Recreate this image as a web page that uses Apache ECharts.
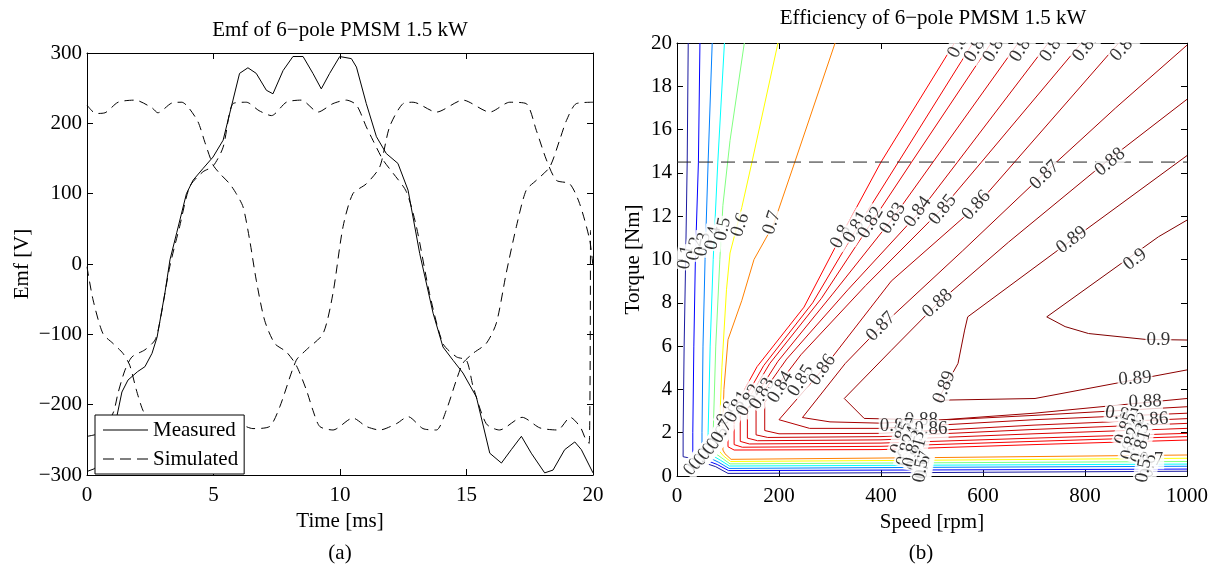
<!DOCTYPE html>
<html>
<head>
<meta charset="utf-8">
<script src="https://cdn.jsdelivr.net/npm/echarts@6/dist/echarts.min.js"></script>
<style>
  html, body { margin: 0; padding: 0; background: #fff; }
  #chart { width: 1223px; height: 575px; }
</style>
</head>
<body>
<div id="chart"></div>
<script>
// ---- (a) Emf: time [ms] / emf [V]
const measured = [[0,-295],[0.3,-291],[0.6,-275],[0.9,-245],[1.19,-215],[1.38,-182],[1.62,-165],[2.0,-153],[2.29,-146],[2.57,-127],[2.77,-104],[3.08,-41],[3.28,6],[3.55,45],[3.93,100],[4.19,119],[4.59,136],[4.98,152],[5.38,176],[5.77,233],[6.03,271],[6.36,279],[6.69,271],[7.09,247],[7.35,242],[7.75,275],[8.14,295],[8.54,295],[8.93,271],[9.26,249],[9.59,271],[9.99,295],[10.45,292],[10.65,280],[11.04,228],[11.44,181],[11.83,157],[12.29,143],[12.69,105],[13.15,15],[13.68,-70],[14.07,-118],[14.47,-137],[14.86,-155],[15.39,-189],[15.92,-269],[16.38,-283],[16.77,-264],[17.17,-245],[17.56,-269],[18.09,-297],[18.42,-293],[18.88,-264],[19.28,-253],[19.54,-264],[20,-297]];
const simA = [[0,226],[0.35,214],[0.71,215],[1.23,230],[1.9,233],[2.57,222],[2.8,215],[3.36,229],[3.75,230],[4.0,223],[4.39,202],[4.66,173],[4.98,141],[5.24,129],[5.64,114],[5.9,100],[6.17,81],[6.43,34],[6.69,-23],[7.02,-80],[7.42,-113],[7.88,-125],[8.27,-144],[8.67,-179],[8.93,-208],[9.2,-231],[9.72,-236],[10.51,-219],[11.04,-231],[11.57,-236],[12.23,-227],[12.69,-217],[13.28,-234],[13.81,-236],[14.2,-208],[14.6,-165],[14.86,-141],[15.26,-127],[15.78,-113],[16.18,-84],[16.57,-13],[16.97,53],[17.36,105],[17.76,119],[18.29,138],[18.68,176],[18.95,204],[19.34,228],[20,230]];
const simB = [[0,-4],[0.24,-51],[0.63,-99],[1.03,-113],[1.42,-127],[1.69,-144],[1.95,-179],[2.21,-208],[2.6,-232],[3.1,-236],[3.8,-218],[4.4,-232],[5.0,-236],[5.6,-220],[6.03,-227],[6.56,-234],[7.22,-231],[7.62,-203],[8.27,-137],[8.67,-122],[9.33,-99],[9.72,-42],[10.12,53],[10.51,100],[11.04,114],[11.57,138],[11.96,195],[12.49,228],[12.89,230],[13.81,216],[14.86,233],[15.92,216],[16.71,230],[17.36,228],[17.76,190],[18.16,148],[18.55,119],[19.08,114],[19.47,86],[19.87,34],[20,-4]];
const simC = [[0,-245],[0.5,-240],[1.03,-212],[1.23,-183],[1.5,-151],[1.78,-132],[2.29,-122],[2.69,-108],[2.87,-84],[3.27,-4],[3.66,53],[4.06,110],[4.58,131],[4.98,139],[5.38,166],[5.77,228],[6.3,230],[6.8,218],[7.29,211],[7.88,230],[8.47,233],[9.13,216],[9.72,228],[10.25,233],[10.65,226],[11.04,195],[11.3,176],[11.7,148],[12.1,129],[12.62,103],[13.02,53],[13.54,-42],[14.07,-113],[14.6,-132],[15.0,-137],[15.26,-174],[15.78,-227],[16.3,-236],[17.2,-218],[17.9,-233],[18.6,-236],[19.1,-218],[19.5,-232],[19.72,-250],[19.85,-255],[19.9,48]];

// ---- (b) Efficiency contours: speed [rpm] / torque [Nm]
const levels = ['0.1','0.2','0.3','0.4','0.5','0.6','0.7','0.8','0.81','0.82','0.83','0.84','0.85','0.86','0.87','0.88','0.89','0.9'];
const levelColors = ['#1a1aa0','#0000ff','#0080ff','#00ffff','#80ff80','#ffff00','#ff8000','#ff0000','#f20000','#e60000','#d90000','#cc0000','#bf0000','#b30000','#a60000','#990000','#8c0000','#800000'];
const c01 = [[22,20],[20,14.5],[17,10],[14,6],[12,2],[12,0.89],[25,0.83],[76,0.43],[100,0.12],[500,0.16],[1000,0.22]];
const c02 = [[45,20],[42,14.5],[36,10],[33,6],[31,2],[31,0.95],[40,0.88],[79,0.53],[101,0.25],[500,0.28],[1000,0.32]];
const c03 = [[69,20],[61,14.5],[55,10],[51,6],[49,2],[49,1.0],[56,0.93],[82,0.63],[102,0.35],[500,0.4],[1000,0.45]];
const c04 = [[93,20],[80,14.5],[71,10],[65,6],[61,2],[61,1.05],[67,0.98],[85,0.73],[103,0.46],[500,0.5],[1000,0.55]];
const c05 = [[132,20],[104,15.5],[90,12.5],[84,10],[76,6],[71,2],[71,1.1],[76,1.03],[88,0.83],[104,0.56],[500,0.61],[1000,0.67]];
const c06 = [[198,20],[147,14.5],[127,12.4],[104,10.3],[97,8.6],[88,5],[83,2],[83,1.15],[86,1.08],[91,0.93],[105,0.67],[500,0.73],[1000,0.82]];
const c07 = [[310,20],[231,14.5],[189,11.6],[151,10],[127,8.1],[100,6.3],[92,4],[90,2.4],[90,1.2],[94,1.03],[106,0.77],[500,0.85],[1000,0.97]];
const c080 = [[544,20],[400,14.5],[321,11.05],[249,7.8],[157,5.05],[100,2.6],[100,1.35],[112,1.2],[400,1.22],[700,1.45],[1000,1.66]];
const c081 = [[580,20],[434,14.5],[354,11.5],[266,8.0],[170,5.1],[112,2.7],[112,1.45],[128,1.33],[400,1.37],[700,1.6],[1000,1.82]];
const c082 = [[616,20],[460,14.5],[380,11.66],[283,8.2],[182,5.2],[124,2.9],[124,1.6],[142,1.48],[400,1.52],[700,1.75],[1000,1.97]];
const c083 = [[669,20],[502,14.5],[423,11.9],[305,8.4],[198,5.3],[138,3.1],[138,1.75],[158,1.63],[400,1.67],[700,1.95],[1000,2.2]];
const c084 = [[728,20],[550,14.5],[472,12.1],[335,8.6],[215,5.4],[155,3.4],[155,1.9],[178,1.78],[400,1.82],[700,2.15],[1000,2.43]];
const c085 = [[793,20],[597,14.5],[518,12.3],[370,8.8],[243,5.6],[172,3.4],[172,2.1],[200,1.95],[400,1.97],[700,2.35],[1000,2.65]];
const c086 = [[866,20],[662,14.5],[584,12.4],[420,9.0],[285,4.9],[200,2.6],[260,2.2],[400,2.2],[700,2.6],[1000,2.9]];
const c087 = [[1000,19.9],[860,17],[721,14.0],[560,10.4],[400,6.9],[330,5.2],[246,2.7],[300,2.5],[400,2.44],[700,2.8],[1000,3.2]];
const c088 = [[1000,17.4],[846,14.6],[650,10.8],[511,7.97],[420,5.8],[328,3.58],[367,2.66],[511,2.58],[700,2.9],[1000,3.58]];
const c089 = [[1000,14.8],[774,10.9],[570,7.35],[564,6.74],[551,5.2],[511,3.5],[702,3.58],[1000,4.9]];
const c090 = [[1000,11.82],[944,11.05],[725,7.35],[761,6.9],[807,6.58],[918,6.31],[1000,6.28]];
const contours = [c01,c02,c03,c04,c05,c06,c07,c080,c081,c082,c083,c084,c085,c086,c087,c088,c089,c090];
const ratedTorque = [[0,14.5],[1000,14.5]];

// contour labels: speed, torque, text, angle
const contourLabels = [
  [17,10.1,'0.1',80],[35,10.5,'0.2',80],[51,10.7,'0.3',80],[71,11.0,'0.4',80],[90,11.4,'0.5',78],[124,11.6,'0.6',72],[186,11.7,'0.7',72],
  [321,11.05,'0.8',62],[351,11.5,'0.81',60],[380,11.7,'0.82',60],[423,11.9,'0.83',58],[472,12.2,'0.84',55],[521,12.3,'0.85',52],[587,12.5,'0.86',48],
  [721,13.9,'0.87',44],[849,14.5,'0.88',40],[774,10.9,'0.89',37],[898,10.0,'0.9',37],
  [551,19.85,'0.8',62],[588,19.85,'0.81',60],[625,19.85,'0.82',60],[678,19.85,'0.83',58],[738,19.85,'0.84',55],[803,19.85,'0.85',52],[878,19.85,'0.86',48],
  [98,2.9,'0.8',62],[118,3.2,'0.81',62],[141,3.5,'0.82',62],[167,3.8,'0.83',60],[203,4.1,'0.84',60],[243,4.4,'0.85',58],[285,4.9,'0.86',55],
  [400,6.9,'0.87',46],[511,7.97,'0.88',42],[524,4.1,'0.89',68],
  [35,0.55,'0.1',50],[45,0.8,'0.2',50],[55,1.0,'0.3',50],[63,1.25,'0.4',50],[72,1.5,'0.5',52],[80,1.75,'0.6',55],[88,2.05,'0.7',58],
  [479,2.6,'0.88',0],[430,2.3,'0.87',0],[498,2.15,'0.86',0],[440,1.75,'0.85',70],[455,1.55,'0.84',70],[465,1.35,'0.83',70],[450,1.2,'0.82',75],[470,1.0,'0.81',75],[460,0.95,'0.8',75],[485,0.6,'0.7',80],[482,0.4,'0.6',80],[478,0.25,'0.5',80],
  [944,6.28,'0.9',0],[898,4.5,'0.89',4],[918,3.43,'0.88',2],[872,2.85,'0.87',-8],[931,2.6,'0.86',4],[880,2.2,'0.85',70],[895,1.9,'0.84',70],[905,1.7,'0.83',70],[890,1.5,'0.82',75],[910,1.35,'0.81',75],[930,0.75,'0.7',0],[925,0.45,'0.6',80],[915,0.25,'0.5',80]
];

const FONT = 'Liberation Serif';

function tickText(v) {
  return String(v).replace('-', '\u2212');
}

function axis(gi, pos, min, max, interval, margin, extra) {
  return Object.assign({
    type: 'value', gridIndex: gi, position: pos, min: min, max: max, interval: interval,
    axisLine: { show: true, onZero: false, lineStyle: { color: '#000', width: 1 } },
    axisTick: { show: true, inside: true, length: 6, lineStyle: { color: '#000' } },
    axisLabel: { show: margin > 0, color: '#000', fontSize: 21, fontFamily: FONT, margin: margin, formatter: tickText },
    splitLine: { show: false },
    nameTextStyle: { color: '#000', fontSize: 21, fontFamily: FONT }
  }, extra || {});
}

function text(x, y, str) {
  return { type: 'text', x: x, y: y, z: 10,
    style: { text: str, fill: '#000', font: '21px "Liberation Serif"', align: 'center', verticalAlign: 'middle', textAlign: 'center', textVerticalAlign: 'middle' } };
}

const chart = echarts.init(document.getElementById('chart'));

const series = [
  { type: 'line', name: 'Measured', xAxisIndex: 0, yAxisIndex: 0, data: measured, symbol: 'none',
    lineStyle: { color: '#000', width: 1 }, itemStyle: { color: '#000' } }
];
[simA, simB, simC].forEach(function (d) {
  series.push({ type: 'line', name: 'Simulated', xAxisIndex: 0, yAxisIndex: 0, data: d, symbol: 'none', smooth: 0.25,
    lineStyle: { color: '#000', width: 1, type: [9, 6] }, itemStyle: { color: '#000' } });
});
contours.forEach(function (d, i) {
  series.push({ type: 'line', name: levels[i], xAxisIndex: 2, yAxisIndex: 2, data: d, symbol: 'none', silent: true,
    lineStyle: { color: levelColors[i], width: 1 } });
});
series.push({ type: 'line', name: 'rated', xAxisIndex: 2, yAxisIndex: 2, data: ratedTorque, symbol: 'none',
  lineStyle: { color: '#222', width: 1, type: [14, 8] } });
series.push({ type: 'scatter', name: 'labels', xAxisIndex: 2, yAxisIndex: 2, symbolSize: 0, z: 3,
  data: contourLabels.map(function (l) {
    return { value: [l[0], l[1]], label: { formatter: l[2], rotate: l[3] } };
  }),
  label: { show: true, position: 'inside', color: '#000', fontSize: 19, fontFamily: FONT,
    backgroundColor: '#fff', padding: [0, 1] }
});

chart.setOption({
  animation: false,
  backgroundColor: '#fff',
  grid: [
    { left: 87, top: 53, width: 506, height: 422 },
    { left: 677, top: 43, width: 510, height: 433 }
  ],
  xAxis: [
    axis(0, 'bottom', 0, 20, 5, 10, { name: 'Time [ms]', nameLocation: 'middle', nameGap: 33 }),
    axis(0, 'top', 0, 20, 5, 0),
    axis(1, 'bottom', 0, 1000, 200, 10, { name: 'Speed [rpm]', nameLocation: 'middle', nameGap: 32 }),
    axis(1, 'top', 0, 1000, 200, 0)
  ],
  yAxis: [
    axis(0, 'left', -300, 300, 100, 5, { name: 'Emf [V]', nameLocation: 'middle', nameGap: 54 }),
    axis(0, 'right', -300, 300, 100, 0),
    axis(1, 'left', 0, 20, 2, 5, { name: 'Torque [Nm]', nameLocation: 'middle', nameGap: 33 }),
    axis(1, 'right', 0, 20, 2, 0)
  ],
  legend: {
    data: [
      { name: 'Measured', icon: 'path://M0,0H45V1H0Z' },
      { name: 'Simulated', icon: 'path://M0,0H11V1H0Z M17,0H28V1H17Z M34,0H45V1H34Z' }
    ],
    orient: 'vertical', left: 95, top: 415,
    backgroundColor: '#fff', borderColor: '#000', borderWidth: 1, borderRadius: 0,
    padding: [3, 6, 3, 8], itemGap: 5, itemWidth: 45, itemHeight: 1.2,
    textStyle: { color: '#000', fontSize: 21, fontFamily: FONT, lineHeight: 24 }
  },
  graphic: [
    { type: 'rect', z: 5, shape: { x: 678, y: 0, width: 515, height: 42.5 }, style: { fill: '#fff' } },
    text(340, 30, 'Emf of 6\u2212pole PMSM 1.5 kW'),
    text(933, 18, 'Efficiency of 6\u2212pole PMSM 1.5 kW'),
    text(340, 553, '(a)'),
    text(921, 553, '(b)')
  ],
  series: series
});
</script>
</body>
</html>
